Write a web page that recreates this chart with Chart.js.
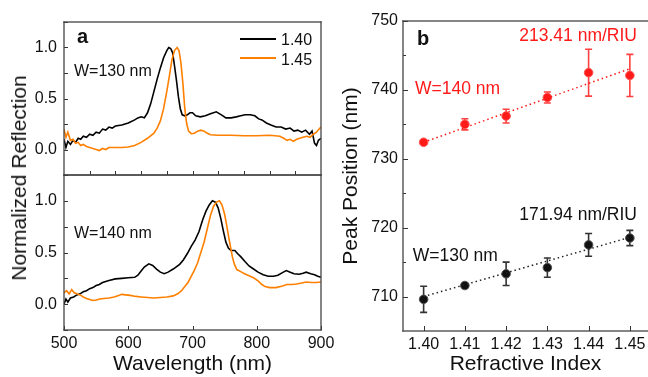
<!DOCTYPE html>
<html><head><meta charset="utf-8">
<script src="https://cdn.jsdelivr.net/npm/chart.js@4"></script>
<style>
html,body{margin:0;padding:0;background:#fff}
body{width:648px;height:377px;overflow:hidden;position:relative;font-family:"Liberation Sans",Arial,sans-serif}
.box{position:absolute}
#ytA{position:absolute;left:19px;top:178px;transform:translate(-50%,-50%) rotate(-90deg);font-size:21px;white-space:nowrap;color:#111}
</style></head><body>
<div class="box" style="left:0;top:0;width:330px;height:176px"><canvas id="a1"></canvas></div>
<div class="box" style="left:0;top:170px;width:340px;height:207px"><canvas id="a2"></canvas></div>
<div class="box" style="left:330px;top:0;width:318px;height:377px"><canvas id="b"></canvas></div>
<div id="ytA">Normalized Reflection</div>
<script>
// ---------- DATA ----------
// Panel a, top (W=130 nm)
const TOP_140_NM = [500,503,506,510,514,518,522,526,530,535,540,545,550,555,560,565,570,575,580,590,600,610,615,620,625,630,635,640,645,650,655,660,663,666,669,672,675,678,681,684,688,692,696,700,705,712,720,728,737,745,752,760,768,775,782,790,797,803,808,815,822,830,838,845,852,858,864,870,876,882,886,890,893,896,900];
const TOP_140_R  = [0.10,0.02,0.08,0.05,0.09,0.07,0.11,0.10,0.13,0.12,0.15,0.14,0.17,0.16,0.20,0.19,0.22,0.21,0.23,0.24,0.26,0.29,0.31,0.32,0.31,0.36,0.45,0.57,0.69,0.80,0.90,0.97,1.00,0.99,0.95,0.82,0.68,0.52,0.40,0.34,0.33,0.34,0.36,0.36,0.33,0.32,0.33,0.35,0.37,0.34,0.31,0.31,0.32,0.33,0.34,0.34,0.33,0.30,0.29,0.26,0.24,0.22,0.22,0.20,0.21,0.18,0.19,0.17,0.19,0.15,0.18,0.06,0.04,0.09,0.11];
const TOP_145_NM = [500,503,506,510,514,518,522,526,530,535,540,545,550,555,560,565,570,580,590,600,610,620,630,640,645,650,655,660,664,668,672,676,679,682,685,688,691,694,698,703,708,713,718,723,728,740,760,780,800,820,836,842,847,852,857,862,867,872,878,883,888,893,897,900];
const TOP_145_R  = [0.20,0.12,0.17,0.09,0.10,0.06,0.07,0.04,0.05,0.03,0.02,0.01,0.00,-0.01,0.01,0.00,0.02,0.02,0.02,0.025,0.04,0.07,0.11,0.16,0.21,0.28,0.40,0.57,0.72,0.88,0.97,1.00,0.97,0.85,0.65,0.40,0.25,0.18,0.155,0.16,0.18,0.19,0.18,0.16,0.145,0.14,0.14,0.135,0.135,0.14,0.13,0.11,0.09,0.10,0.08,0.10,0.11,0.12,0.13,0.12,0.15,0.17,0.20,0.22];
// Panel a, bottom (W=140 nm)
const BOT_140_NM = [500,503,506,510,515,520,525,530,535,540,545,550,555,560,570,580,590,600,610,615,620,625,632,638,644,650,656,662,670,680,686,692,698,704,710,716,721,726,731,736,740,744,748,752,756,760,766,770,775,782,788,795,802,810,818,826,833,840,846,852,858,866,872,877,884,890,895,900];
const BOT_140_R  = [0.00,0.05,0.02,0.06,0.07,0.09,0.10,0.12,0.13,0.15,0.16,0.18,0.19,0.21,0.23,0.245,0.25,0.255,0.26,0.28,0.32,0.36,0.39,0.375,0.34,0.31,0.295,0.31,0.34,0.385,0.43,0.49,0.56,0.62,0.70,0.82,0.90,0.96,1.00,0.985,0.93,0.83,0.71,0.60,0.54,0.52,0.52,0.49,0.46,0.41,0.37,0.34,0.31,0.285,0.27,0.27,0.28,0.305,0.325,0.31,0.295,0.29,0.30,0.31,0.295,0.285,0.27,0.26];
const BOT_145_NM = [500,504,508,512,516,520,525,530,535,540,545,550,556,562,570,578,585,590,596,603,612,620,630,640,650,660,670,677,683,688,693,698,703,708,713,718,723,728,733,738,742,746,750,753,756,759,762,765,769,775,781,788,795,802,808,813,820,830,840,847,855,862,870,877,885,893,900];
const BOT_145_R  = [0.11,0.13,0.10,0.14,0.11,0.10,0.09,0.07,0.055,0.045,0.035,0.04,0.05,0.055,0.06,0.07,0.085,0.095,0.09,0.085,0.075,0.07,0.065,0.06,0.065,0.07,0.08,0.10,0.13,0.17,0.21,0.27,0.33,0.40,0.50,0.60,0.73,0.86,0.95,0.99,1.00,0.96,0.87,0.77,0.66,0.56,0.46,0.39,0.335,0.315,0.295,0.275,0.255,0.225,0.19,0.17,0.16,0.16,0.175,0.19,0.19,0.195,0.205,0.215,0.21,0.21,0.215];
const SERIES_NAMES = ['1.40','1.45'];
const A_Y_TICKS  = [0, 0.5, 1.0];
const A_Y_LABELS = ['0.0','0.5','1.0'];
const A_Y_MARKS  = [-0.25,0,0.25,0.5,0.75,1.0,1.25];
const A_X_TICKS  = [500,600,700,800,900];
const A_X_LABELS = ['500','600','700','800','900'];
const A_TOP_X_MARKS = [540,580,620,660,700,740,780,820,860];

// Panel b
const RI = [1.40,1.41,1.42,1.43,1.44,1.45];
const PEAK_W140 = [732.4,735.0,736.2,738.9,742.5,742.1];
const ERR_W140  = [0.3,0.8,1.0,0.8,3.4,3.05];
const PEAK_W130 = [709.6,711.6,713.3,714.2,717.5,718.5];
const ERR_W130  = [1.9,0.3,1.7,1.4,1.65,1.1];
const FIT_W140  = [732.4,743.07];   // at 1.40 and 1.45 (213.41 nm/RIU)
const FIT_W130  = [710.0,718.6];    // at 1.40 and 1.45 (171.94 nm/RIU)
const B_X_TICKS  = [1.40,1.41,1.42,1.43,1.44,1.45];
const B_X_LABELS = ['1.40','1.41','1.42','1.43','1.44','1.45'];
const B_Y_TICKS  = [710,720,730,740,750];
const B_Y_LABELS = ['710','720','730','740','750'];
const B_Y_MINOR  = [715,725,735,745];

// ---------- STYLE / PLUGINS ----------
const FAM = "'Liberation Sans', Arial, sans-serif";
const TXT = '#111';
const ORANGE = '#ff8000';
const RED = '#ff1a1a';

function marksPlugin(cfg){
  return {
    id:'marksP',
    afterDraw(chart){
      try{
        const ctx = chart.ctx, a = chart.chartArea;
        ctx.save();
        ctx.setLineDash([]);
        ctx.globalAlpha = 1;
        ctx.fillStyle = '#333';
        cfg.list.forEach(m=>{
          const sc = chart.scales[m.axis];
          m.values.forEach(v=>{
            const p = Math.round(sc.getPixelForValue(v));
            if (m.axis === 'x') ctx.fillRect(p, a.bottom - m.len, 1, m.len);
            else ctx.fillRect(a.left, p, m.len, 1);
          });
        });
        ctx.fillStyle = '#444';
        const s = cfg.sides, w = 1.3;
        const L=a.left, R=a.right, T=a.top, B=a.bottom;
        if (s.includes('l')) ctx.fillRect(L - w/2, T - w/2, w, B - T + w);
        if (s.includes('r')) ctx.fillRect(R - w/2, T - w/2, w, B - T + w);
        if (s.includes('t')) ctx.fillRect(L - w/2, T - w/2, R - L + w, w);
        if (s.includes('b')) ctx.fillRect(L - w/2, B - w/2, R - L + w, w);
        ctx.restore();
      }catch(e){}
    }
  };
}
function notesPlugin(cfg){
  return {
    id:'notesP',
    afterDraw(chart){
      const ctx = chart.ctx;
      ctx.save();
      (cfg.lines||[]).forEach(l=>{
        ctx.fillStyle = l.c;
        ctx.fillRect(l.x1, l.y - 1, l.x2 - l.x1, 2);
      });
      (cfg.list||[]).forEach(t=>{
        ctx.font = t.f; ctx.fillStyle = t.c || TXT;
        ctx.textAlign = t.align || 'left'; ctx.textBaseline = 'alphabetic';
        ctx.fillText(t.t, t.x, t.y);
      });
      ctx.restore();
    }
  };
}
function errPlugin(sets){
  return {
    id:'errP',
    beforeDatasetsDraw(chart){
      const ctx = chart.ctx, sx = chart.scales.x, sy = chart.scales.y;
      ctx.save();
      sets.forEach(s=>{
        ctx.strokeStyle = s.c; ctx.lineWidth = 1.6;
        s.x.forEach((xv,i)=>{
          const px = sx.getPixelForValue(xv);
          const y1 = sy.getPixelForValue(s.y[i]-s.e[i]);
          const y2 = sy.getPixelForValue(s.y[i]+s.e[i]);
          ctx.beginPath();
          ctx.moveTo(px,y1); ctx.lineTo(px,y2);
          ctx.moveTo(px-3.5,y1); ctx.lineTo(px+3.5,y1);
          ctx.moveTo(px-3.5,y2); ctx.lineTo(px+3.5,y2);
          ctx.stroke();
        });
      });
      ctx.restore();
    }
  };
}

function xy(xs, ys){ return xs.map((x,i)=>({x:x, y:ys[i]})); }
function lineDS(xs, ys, color, label){
  return {label, data:xy(xs,ys), borderColor:color, borderWidth:1.6, pointRadius:0, tension:0, fill:false};
}
function fixedTicks(vals){ return s => { s.ticks = vals.map(v=>({value:v})); }; }
function fitTo(w, h){ return s => { if (w !== null) s.width = w; if (h !== null) s.height = h; s.paddingTop = 0; s.paddingBottom = 0; s.paddingLeft = 0; s.paddingRight = 0; }; }
const NOGRID = {display:false, drawTicks:false};

function panelA(id, isTop){
  const ds = isTop
    ? [lineDS(TOP_145_NM, TOP_145_R, ORANGE, SERIES_NAMES[1]), lineDS(TOP_140_NM, TOP_140_R, '#000', SERIES_NAMES[0])]
    : [lineDS(BOT_145_NM, BOT_145_R, ORANGE, SERIES_NAMES[1]), lineDS(BOT_140_NM, BOT_140_R, '#000', SERIES_NAMES[0])];
  const noteList = isTop ? [
    {t:'a', x:77, y:43, f:`bold 20px ${FAM}`},
    {t:'W=130 nm', x:74, y:76, f:`16px ${FAM}`},
    {t:SERIES_NAMES[0], x:281, y:45, f:`16px ${FAM}`},
    {t:SERIES_NAMES[1], x:281, y:65, f:`16px ${FAM}`}
  ] : [
    {t:'W=140 nm', x:74, y:67.7, f:`16px ${FAM}`}
  ];
  const marks = marksPlugin({sides:'ltrb', list: isTop
    ? [{axis:'y', values:A_Y_MARKS, len:4},{axis:'x', values:A_TOP_X_MARKS, len:4}]
    : [{axis:'y', values:A_Y_MARKS, len:4},{axis:'x', values:A_X_TICKS, len:4}]});
  const notes = notesPlugin({list:noteList, lines: isTop ? [{x1:240,x2:276,y:39,c:'#000'},{x1:240,x2:276,y:58,c:ORANGE}] : []});
  return new Chart(document.getElementById(id), {
    type:'line',
    data:{datasets:ds},
    options:{
      animation:false, responsive:true, maintainAspectRatio:false,
      layout:{autoPadding:false, padding:{left:0, right: isTop ? 9 : 19, top: isTop?22:5, bottom:0}},
      plugins:{legend:{display:false}, tooltip:{enabled:false}},
      scales:{
        x:{type:'linear', min:500, max:900,
           afterBuildTicks: fixedTicks(isTop ? [] : A_X_TICKS),
           ticks:{display:!isTop, callback:(v,i)=>A_X_LABELS[i], font:{size:16, family:FAM}, color:TXT, padding:4, maxRotation:0, autoSkip:false},
           grid:NOGRID, border:{display:false},
           title:{display:!isTop, text:'Wavelength (nm)', font:{size:21, family:FAM}, color:TXT, padding:{top:0,bottom:0}},
           afterFit: fitTo(null, isTop ? 1 : 47)},
        y:{type:'linear', min:-0.25, max:1.25,
           afterBuildTicks: fixedTicks(A_Y_TICKS),
           ticks:{callback:(v,i)=>A_Y_LABELS[i], font:{size:16, family:FAM}, color:TXT, padding:7},
           grid:NOGRID, border:{display:false},
           afterFit: fitTo(64, null)}
      }
    },
    plugins:[marks, notes]
  });
}
panelA('a1', true);
panelA('a2', false);

new Chart(document.getElementById('b'), {
  type:'scatter',
  data:{datasets:[
    {type:'line', data:[{x:RI[0],y:FIT_W140[0]},{x:RI[RI.length-1],y:FIT_W140[1]}], borderColor:RED, borderWidth:1.5, borderDash:[1.5,3], pointRadius:0},
    {type:'line', data:[{x:RI[0],y:FIT_W130[0]},{x:RI[RI.length-1],y:FIT_W130[1]}], borderColor:'#222', borderWidth:1.5, borderDash:[1.5,3], pointRadius:0},
    {data:xy(RI, PEAK_W140), backgroundColor:RED, borderColor:'#ff5555', borderWidth:1, pointRadius:4.3},
    {data:xy(RI, PEAK_W130), backgroundColor:'#111', borderColor:'#555', borderWidth:1, pointRadius:4.3}
  ]},
  options:{
    animation:false, responsive:true, maintainAspectRatio:false,
    layout:{autoPadding:false, padding:{left:0, right:0, top:21, bottom:0}},
    plugins:{legend:{display:false}, tooltip:{enabled:false}},
    scales:{
      x:{type:'linear', min:1.395, max:1.4544,
         afterBuildTicks: fixedTicks(B_X_TICKS),
         ticks:{callback:(v,i)=>B_X_LABELS[i], font:{size:16, family:FAM}, color:TXT, padding:4, maxRotation:0, autoSkip:false},
         grid:NOGRID, border:{display:false},
         title:{display:true, text:'Refractive Index', font:{size:21, family:FAM}, color:TXT, padding:{top:0,bottom:0}},
         afterFit: fitTo(null, 46)},
      y:{type:'linear', min:705, max:750,
         afterBuildTicks: fixedTicks(B_Y_TICKS),
         ticks:{callback:(v,i)=>B_Y_LABELS[i], font:{size:16, family:FAM}, color:TXT, padding:5},
         grid:NOGRID, border:{display:false},
         title:{display:true, text:'Peak Position (nm)', font:{size:21, family:FAM}, color:TXT, padding:{top:9,bottom:0}},
         afterFit: fitTo(73, null)}
    }
  },
  plugins:[
    errPlugin([{x:RI, y:PEAK_W140, e:ERR_W140, c:'#ff4040'},{x:RI, y:PEAK_W130, e:ERR_W130, c:'#333'}]),
    marksPlugin({sides:'ltb', list:[{axis:'y', values:B_Y_TICKS, len:5},{axis:'y', values:B_Y_MINOR, len:3},{axis:'x', values:B_X_TICKS, len:5}]}),
    notesPlugin({list:[
      {t:'b', x:87, y:45, f:`bold 20px ${FAM}`},
      {t:'213.41 nm/RIU', x:307, y:40.7, f:`17.5px ${FAM}`, c:RED, align:'right'},
      {t:'W=140 nm', x:85, y:94, f:`17.5px ${FAM}`, c:RED},
      {t:'171.94 nm/RIU', x:307, y:220, f:`17.5px ${FAM}`, align:'right'},
      {t:'W=130 nm', x:82.7, y:260.7, f:`17.5px ${FAM}`}
    ]})
  ]
});
</script>
</body></html>
